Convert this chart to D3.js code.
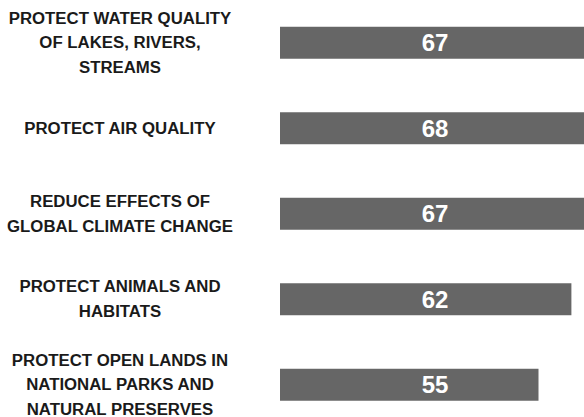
<!DOCTYPE html>
<html>
<head>
<meta charset="utf-8">
<script src="https://cdn.jsdelivr.net/npm/d3@7"></script>
<style>
  html, body { margin: 0; padding: 0; background: #fff; }
  svg { display: block; }
</style>
</head>
<body>
<script>
const categories = [
  ["PROTECT WATER QUALITY", "OF LAKES, RIVERS,", "STREAMS"],
  ["PROTECT AIR QUALITY"],
  ["REDUCE EFFECTS OF", "GLOBAL CLIMATE CHANGE"],
  ["PROTECT ANIMALS AND", "HABITATS"],
  ["PROTECT OPEN LANDS IN", "NATIONAL PARKS AND", "NATURAL PRESERVES"]
];
const values = [67, 68, 67, 62, 55];

const W = 584, H = 417;
const svg = d3.select("body").append("svg").attr("width", W).attr("height", H);

const idx = d3.range(values.length);
const y = d3.scaleBand().domain(idx).range([0, 427.5]).paddingInner(0.626).paddingOuter(0.313);
const x = d3.scaleLinear().domain([0, 100]).range([280, 750]);

svg.selectAll("rect.bar").data(idx).join("rect")
  .attr("class", "bar")
  .attr("x", x(0))
  .attr("y", i => y(i))
  .attr("width", i => x(values[i]) - x(0))
  .attr("height", y.bandwidth())
  .attr("fill", "#666666");

const valueX = 435;
svg.selectAll("text.val").data(idx).join("text")
  .attr("class", "val")
  .attr("x", valueX)
  .attr("y", i => y(i) + y.bandwidth() / 2)
  .attr("dy", "0.36em")
  .attr("text-anchor", "middle")
  .attr("font-family", "Liberation Sans, Arial, sans-serif")
  .attr("font-weight", "bold")
  .attr("font-size", 24)
  .attr("fill", "#ffffff")
  .text(i => values[i]);

const lineH = 24.6;
const labelX = 120;
const lab = svg.selectAll("text.cat").data(idx).join("text")
  .attr("class", "cat")
  .attr("text-anchor", "middle")
  .attr("font-family", "Liberation Sans, Arial, sans-serif")
  .attr("font-weight", "bold")
  .attr("font-size", 16.8)
  .attr("fill", "#1a1a1a");
lab.each(function(i) {
  const lines = categories[i];
  const cy = y(i) + y.bandwidth() / 2 - 0.5;
  const start = cy - (lines.length - 1) * lineH / 2;
  d3.select(this).selectAll("tspan").data(lines).join("tspan")
    .attr("x", labelX)
    .attr("y", (d, k) => start + k * lineH)
    .attr("dy", "0.36em")
    .text(d => d);
});
</script>
</body>
</html>
